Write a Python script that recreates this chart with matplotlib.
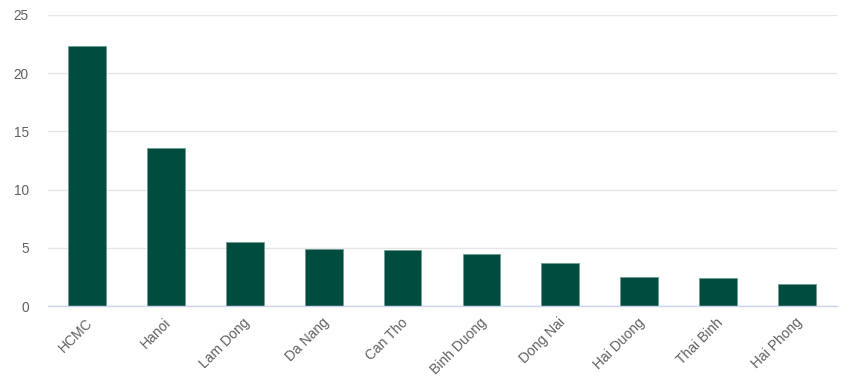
import matplotlib
matplotlib.use("Agg")
import matplotlib.pyplot as plt
from matplotlib.transforms import ScaledTranslation

categories = ["HCMC", "Hanoi", "Lam Dong", "Da Nang", "Can Tho", "Binh Duong",
              "Dong Nai", "Hai Duong", "Thai Binh", "Hai Phong"]
values = [22.3, 13.6, 5.5, 4.9, 4.8, 4.5, 3.7, 2.5, 2.4, 1.9]
yticks = [0, 5, 10, 15, 20, 25]

plt.rcParams['font.family'] = ['Liberation Sans', 'DejaVu Sans']

fig = plt.figure(figsize=(8.57, 3.92), dpi=100)
ax = fig.add_axes([47.5/857, 1-306/392, (836.5-47.5)/857, (306-15)/392])

x = list(range(len(categories)))
ax.bar(x, values, width=0.48, color="#004d40", edgecolor="#6f9c93", linewidth=0.6, zorder=3)

ax.set_xlim(-0.5, len(categories)-0.5)
ax.set_ylim(0, 25)
ax.set_yticks(yticks)
ax.set_yticklabels([str(t) for t in yticks])
ax.yaxis.grid(True, color="#e6e6e6", linewidth=1, zorder=0)
ax.set_axisbelow(True)

for s in ["top", "right", "left"]:
    ax.spines[s].set_visible(False)
ax.spines["bottom"].set_color("#ccd6eb")
ax.spines["bottom"].set_linewidth(1)
ax.spines["bottom"].set_zorder(4)

ax.tick_params(axis="y", length=0, pad=13.5, labelsize=9.8, labelcolor="#606060")
ax.tick_params(axis="x", length=0, pad=9, labelsize=10, labelcolor="#606060")
ax.set_xticks(x)
ax.set_xticklabels(categories, rotation=45, ha="right", va="center", rotation_mode="anchor")
offset = ScaledTranslation(3/100, -2/100, fig.dpi_scale_trans)
for lbl in ax.get_xticklabels():
    lbl.set_transform(lbl.get_transform() + offset)
for lbl in ax.get_yticklabels():
    lbl.set_ha("right")

fig.savefig("out.png", dpi=100)
